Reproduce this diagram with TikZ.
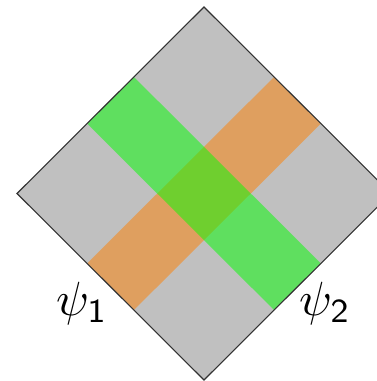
\documentclass[tikz,border=0pt]{standalone}
\usetikzlibrary{calc}
\definecolor{cellgray}{RGB}{192,192,192}
\definecolor{edgegray}{RGB}{50,50,50}
\definecolor{bandgreen}{RGB}{0,255,0}
\definecolor{bandorange}{RGB}{255,128,0}
\tikzset{
  band/.style={draw=none, fill opacity=0.5},
  lbl/.style={inner sep=0pt, scale=4.8}
}
\begin{document}
\begin{tikzpicture}[x=1pt,y=-1pt]
\useasboundingbox (0,0) rectangle (377,381);
\clip (0,0) rectangle (377,381);
\begin{scope}[shift={(17,193.5)}, x={(187pt,186.5pt)}, y={(187pt,-186.5pt)}]
  \coordinate (L) at (0,0);
  \coordinate (T) at (1,0);
  \coordinate (R) at (1,1);
  \coordinate (B) at (0,1);
  \fill[cellgray] (L) -- (T) -- (R) -- (B) -- cycle;
  \fill[band, bandorange] (0,0.375) -- (1,0.375) -- (1,0.625) -- (0,0.625) -- cycle;
  \fill[band, bandgreen] (0.375,0) -- (0.625,0) -- (0.625,1) -- (0.375,1) -- cycle;
  \draw[edgegray, line width=1.1pt, line join=miter] (L) -- (T) -- (R) -- (B) -- cycle;
\end{scope}
\node[lbl] (psione) at (82,303) {$\psi_{\mathsf{1}}$};
\node[lbl] (psitwo) at (325,303) {$\psi_{\mathsf{2}}$};
\end{tikzpicture}
\end{document}
